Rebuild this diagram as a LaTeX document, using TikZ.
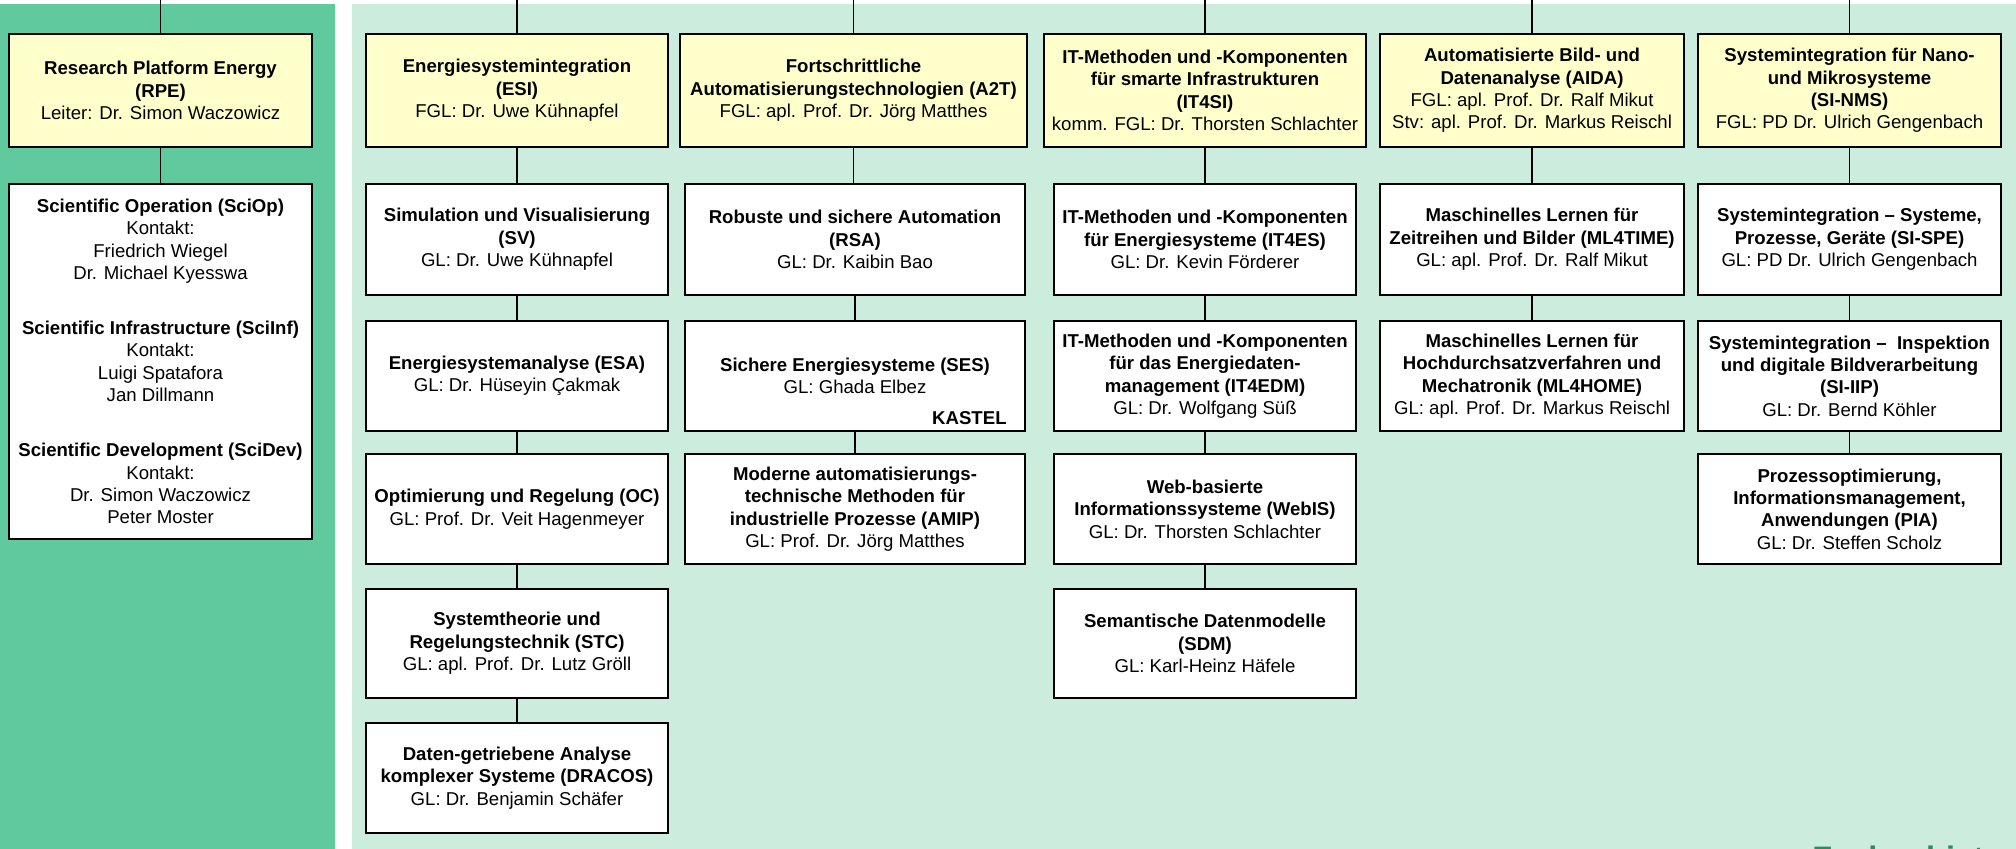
\documentclass[tikz,border=0pt]{standalone}
\usepackage{fontspec}
\setmainfont{Liberation Sans}
\definecolor{panelgreen}{RGB}{96,201,157}
\definecolor{panellight}{RGB}{204,237,222}
\definecolor{boxyellow}{RGB}{255,255,204}
\definecolor{titlegreen}{RGB}{46,140,92}
\newcommand\boxfont{\fontsize{9.3pt}{11.2pt}\selectfont}
\newcommand\orgbox[7]{%
  \node[#1, minimum width={(#5-#3)*0.5pt}, minimum height={(#6-#4)*0.5pt}] (#2) at ({(#3+#5)/2},{(#4+#6)/2}) {#7};}
\tikzset{
  unitbox/.style={draw=black, line width=1pt, inner sep=0pt, align=center, font=\boxfont},
  fgbox/.style={unitbox, fill=boxyellow},
  gbox/.style={unitbox, fill=white},
  link/.style={draw=black, line width=0.75pt},
}
\begin{document}
\begin{tikzpicture}[x=0.5pt, y=-0.5pt]
\useasboundingbox (0,0) rectangle (2016,849);
\clip (0,0) rectangle (2016,849);
\fill[white] (0,0) rectangle (2016,849);
\fill[panelgreen] (0,4) rectangle (335,849);
\fill[panellight] (352,4) rectangle (2016,849);

% top coordinates
\coordinate (trpe) at (160.5,0);
\coordinate (tesi) at (517,0);
\coordinate (ta2t) at (853.5,0);
\coordinate (tit4si) at (1205,0);
\coordinate (taida) at (1532,0);
\coordinate (tsinms) at (1849.5,0);

% top row
\orgbox{fgbox}{rpe}{9}{34}{312}{147}{\textbf{Research Platform Energy}\\\textbf{(RPE)}\\Leiter: Dr. Simon Waczowicz}
\orgbox{fgbox}{esi}{366}{34}{668}{147}{\textbf{Energiesystemintegration}\\\textbf{(ESI)}\\FGL: Dr. Uwe Kühnapfel}
\orgbox{fgbox}{a2t}{680}{34}{1027}{147}{\textbf{Fortschrittliche}\\\textbf{Automatisierungstechnologien (A2T)}\\FGL: apl. Prof. Dr. Jörg Matthes}
\orgbox{fgbox}{it4si}{1044}{34}{1366}{147}{\textbf{IT-Methoden und -Komponenten}\\\textbf{für smarte Infrastrukturen}\\\textbf{(IT4SI)}\\komm. FGL: Dr. Thorsten Schlachter}
\orgbox{fgbox}{aida}{1380}{34}{1684}{147}{\textbf{Automatisierte Bild- und}\\\textbf{Datenanalyse (AIDA)}\\FGL: apl. Prof. Dr. Ralf Mikut\\Stv: apl. Prof. Dr. Markus Reischl}
\orgbox{fgbox}{sinms}{1698}{34}{2001}{147}{\textbf{Systemintegration für Nano-}\\\textbf{und Mikrosysteme}\\\textbf{(SI-NMS)}\\FGL: PD Dr. Ulrich Gengenbach}

% RPE column
\orgbox{gbox}{sci}{9}{184}{312}{539}{\textbf{Scientific Operation (SciOp)}\\Kontakt:\\Friedrich Wiegel\\Dr. Michael Kyesswa\\[16.3pt]\textbf{Scientific Infrastructure (SciInf)}\\Kontakt:\\Luigi Spatafora\\Jan Dillmann\\[16.3pt]\textbf{Scientific Development (SciDev)}\\Kontakt:\\Dr. Simon Waczowicz\\Peter Moster}

% ESI column
\orgbox{gbox}{sv}{366}{184}{668}{295}{\textbf{Simulation und Visualisierung}\\\textbf{(SV)}\\GL: Dr. Uwe Kühnapfel}
\orgbox{gbox}{esa}{366}{321}{668}{431}{\textbf{Energiesystemanalyse (ESA)}\\GL: Dr. Hüseyin Çakmak}
\orgbox{gbox}{oc}{366}{454}{668}{564}{\textbf{Optimierung und Regelung (OC)}\\GL: Prof. Dr. Veit Hagenmeyer}
\orgbox{gbox}{stc}{366}{589}{668}{698}{\textbf{Systemtheorie und}\\\textbf{Regelungstechnik (STC)}\\GL: apl. Prof. Dr. Lutz Gröll}
\orgbox{gbox}{dracos}{366}{723}{668}{833}{\textbf{Daten-getriebene Analyse}\\\textbf{komplexer Systeme (DRACOS)}\\GL: Dr. Benjamin Schäfer}

% A2T column
\orgbox{gbox}{rsa}{685}{184}{1025}{295}{\textbf{Robuste und sichere Automation}\\\textbf{(RSA)}\\GL: Dr. Kaibin Bao}
\orgbox{gbox}{ses}{685}{321}{1025}{431}{\textbf{Sichere Energiesysteme (SES)}\\GL: Ghada Elbez}
\node[anchor=east, inner sep=0pt, font=\boxfont\bfseries] (kastel) at (1007,418) {KASTEL};
\orgbox{gbox}{amip}{685}{454}{1025}{564}{\textbf{Moderne automatisierungs-}\\\textbf{technische Methoden für}\\\textbf{industrielle Prozesse (AMIP)}\\GL: Prof. Dr. Jörg Matthes}

% IT4SI column
\orgbox{gbox}{it4es}{1054}{184}{1356}{295}{\textbf{IT-Methoden und -Komponenten}\\\textbf{für Energiesysteme (IT4ES)}\\GL: Dr. Kevin Förderer}
\orgbox{gbox}{it4edm}{1054}{321}{1356}{431}{\textbf{IT-Methoden und -Komponenten}\\\textbf{für das Energiedaten-}\\\textbf{management (IT4EDM)}\\GL: Dr. Wolfgang Süß}
\orgbox{gbox}{webis}{1054}{454}{1356}{564}{\textbf{Web-basierte}\\\textbf{Informationssysteme (WebIS)}\\GL: Dr. Thorsten Schlachter}
\orgbox{gbox}{sdm}{1054}{589}{1356}{698}{\textbf{Semantische Datenmodelle}\\\textbf{(SDM)}\\GL: Karl-Heinz Häfele}

% AIDA column
\orgbox{gbox}{mltime}{1380}{184}{1684}{295}{\textbf{Maschinelles Lernen für}\\\textbf{Zeitreihen und Bilder (ML4TIME)}\\GL: apl. Prof. Dr. Ralf Mikut}
\orgbox{gbox}{mlhome}{1380}{321}{1684}{431}{\textbf{Maschinelles Lernen für}\\\textbf{Hochdurchsatzverfahren und}\\\textbf{Mechatronik (ML4HOME)}\\GL: apl. Prof. Dr. Markus Reischl}

% SI-NMS column
\orgbox{gbox}{sispe}{1698}{184}{2001}{295}{\textbf{Systemintegration – Systeme,}\\\textbf{Prozesse, Geräte (SI-SPE)}\\GL: PD Dr. Ulrich Gengenbach}
\orgbox{gbox}{siiip}{1698}{321}{2001}{431}{\textbf{Systemintegration –\ \ Inspektion}\\\textbf{und digitale Bildverarbeitung}\\\textbf{(SI-IIP)}\\GL: Dr. Bernd Köhler}
\orgbox{gbox}{pia}{1698}{454}{2001}{564}{\textbf{Prozessoptimierung,}\\\textbf{Informationsmanagement,}\\\textbf{Anwendungen (PIA)}\\GL: Dr. Steffen Scholz}

% connectors
\draw[link] (trpe) -- (rpe.north);
\draw[link] (tesi) -- (esi.north);
\draw[link] (ta2t) -- (a2t.north);
\draw[link] (tit4si) -- (it4si.north);
\draw[link] (taida) -- (aida.north);
\draw[link] (tsinms) -- (sinms.north);

\draw[link] (rpe.south) -- (sci.north);
\draw[link] (esi.south) -- (sv.north);
\draw[link] (sv.south) -- (esa.north);
\draw[link] (esa.south) -- (oc.north);
\draw[link] (oc.south) -- (stc.north);
\draw[link] (stc.south) -- (dracos.north);
\draw[link] (a2t.south) -- (a2t.south |- rsa.north);
\draw[link] (rsa.south) -- (ses.north);
\draw[link] (ses.south) -- (amip.north);
\draw[link] (it4si.south) -- (it4es.north);
\draw[link] (it4es.south) -- (it4edm.north);
\draw[link] (it4edm.south) -- (webis.north);
\draw[link] (webis.south) -- (sdm.north);
\draw[link] (aida.south) -- (mltime.north);
\draw[link] (mltime.south) -- (mlhome.north);
\draw[link] (sinms.south) -- (sispe.north);
\draw[link] (sispe.south) -- (siiip.north);
\draw[link] (siiip.south) -- (pia.north);

% bottom title, mostly cut off
\node[anchor=north west, inner sep=0pt, text=titlegreen, font=\fontsize{16.25pt}{18pt}\selectfont\bfseries] (fachgebiete) at (1812,846) {Fachgebiete};
\end{tikzpicture}
\end{document}
